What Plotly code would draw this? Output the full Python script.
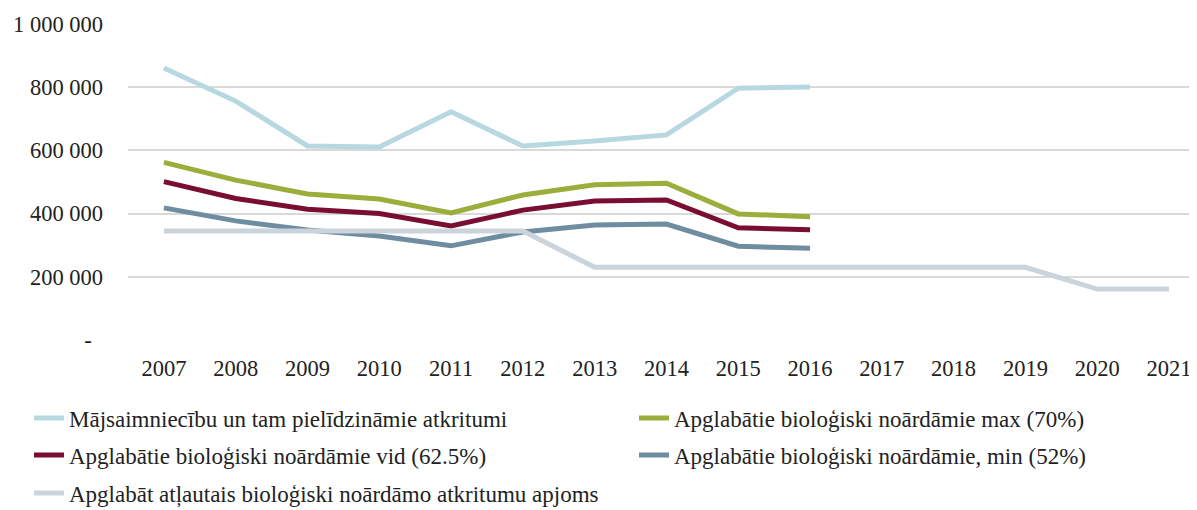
import plotly.graph_objects as go

years = [str(y) for y in range(2007, 2022)]

household = [861000, 756000, 614000, 611000, 722000, 614000, 630000, 649000, 797000, 801000]
bio_max = [562000, 506000, 462000, 446000, 402000, 459000, 491000, 496000, 399000, 390000]
bio_avg = [501000, 448000, 414000, 400000, 361000, 411000, 440000, 443000, 355000, 349000]
bio_min = [418000, 377000, 348000, 329000, 298000, 342000, 364000, 367000, 297000, 290000]
allowed = [345000, 345000, 345000, 345000, 345000, 345000, 230000, 230000, 230000,
           230000, 230000, 230000, 230000, 161000, 161000]

names = [
    "Mājsaimniecību un tam pielīdzināmie atkritumi",
    "Apglabātie bioloģiski noārdāmie max (70%)",
    "Apglabātie bioloģiski noārdāmie vid (62.5%)",
    "Apglabātie bioloģiski noārdāmie, min (52%)",
    "Apglabāt atļautais bioloģiski noārdāmo atkritumu apjoms",
]
colors = ["#B7D8E0", "#9BAE3B", "#7A0E30", "#6E8DA0", "#CBD3DB"]
series = [household, bio_max, bio_avg, bio_min, allowed]

ytickvals = [0, 200000, 400000, 600000, 800000, 1000000]
yticktext = ["-\u00a0\u00a0", "200 000", "400 000", "600 000", "800 000", "1 000 000"]

FONT = "Liberation Serif"
# the page body has an 8px margin, so the figure is 8px smaller than the window
W, H = 1189, 502

# legend slot positions (figure pixels): left x, vertical centre y
legend_pos = [(21, 410), (626, 410), (21, 447), (626, 447), (21, 485)]
legend_ids = ["legend", "legend2", "legend3", "legend4", "legend5"]

fig = go.Figure()
for name, col, vals, lid in zip(names, colors, series, legend_ids):
    fig.add_trace(go.Scatter(
        x=years[:len(vals)], y=vals, mode="lines", name=name,
        line=dict(color=col, width=5), legend=lid,
    ))

legend_layout = {}
for lid, (px, py) in zip(legend_ids, legend_pos):
    legend_layout[lid] = dict(
        orientation="h", xref="container", yref="container",
        x=px / W, y=1 - py / H, xanchor="left", yanchor="middle",
        font=dict(family=FONT, size=23, color="#222222"),
        bgcolor="rgba(0,0,0,0)", borderwidth=0,
    )

fig.update_layout(
    width=W, height=H,
    margin=dict(l=120, r=0, t=16, b=170, autoexpand=False),
    paper_bgcolor="white", plot_bgcolor="white",
    font=dict(family=FONT, size=22.5, color="#222222"),
    showlegend=True,
    xaxis=dict(
        type="category", categoryorder="array", categoryarray=years,
        range=[-0.5, 14.39], showgrid=False, zeroline=False, automargin=False,
        showline=False, ticks="", ticklabelstandoff=12,
    ),
    yaxis=dict(
        range=[0, 1000000], tickvals=ytickvals, ticktext=yticktext, automargin=False,
        showgrid=True, gridcolor="#D9D9D9", gridwidth=1.5,
        zeroline=False, showline=False, ticks="", ticklabelstandoff=24,
    ),
    **legend_layout,
)

fig.write_html("out.html")
